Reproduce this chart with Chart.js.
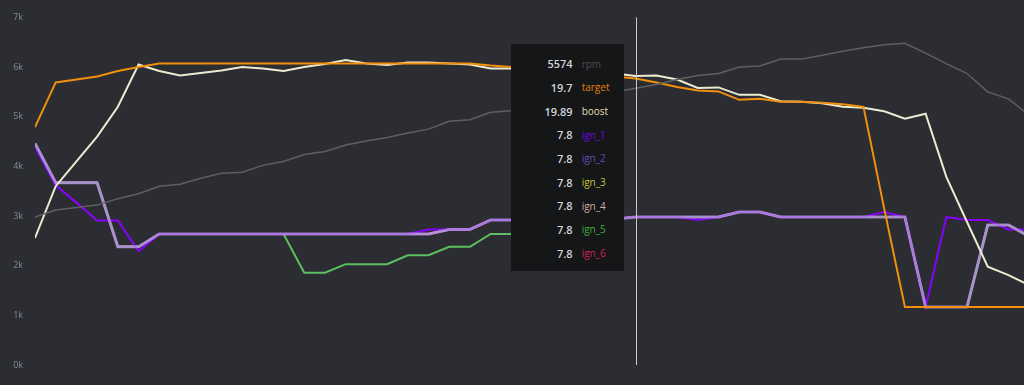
<!DOCTYPE html>
<html>
<head>
<meta charset="utf-8">
<script src="https://cdn.jsdelivr.net/npm/chart.js@4.4.1/dist/chart.umd.min.js"></script>
<style>
  html, body { margin:0; padding:0; background:#2b2d32; overflow:hidden; }
  #wrap { position:relative; width:1024px; height:385px; }
  canvas { display:block; }
  #tip { position:absolute; background:#151617; padding:8px 0 0 0; box-sizing:border-box;
         font-family:"Open Sans", "DejaVu Sans", sans-serif; }
  #tip .row { display:flex; align-items:center; height:23.66px; }
  #tip .val { width:62px; text-align:right; color:#d2d4d8; font-size:11px; font-weight:600; }
  #tip .lab { padding-left:9px; font-size:10px; }
</style>
</head>
<body>
<div id="wrap"><canvas id="c" width="1024" height="385"></canvas><div id="tip"></div></div>
<script>
// ---- data (plotted values, in thousands of the y axis unit) ----
const rpm    = [2.98,3.12,3.17,3.22,3.35,3.45,3.60,3.64,3.76,3.86,3.88,4.02,4.10,4.24,4.30,4.43,4.51,4.58,4.67,4.75,4.91,4.94,5.09,5.12,5.20,5.28,5.36,5.44,5.50,5.574,5.65,5.75,5.83,5.87,6.00,6.02,6.16,6.16,6.24,6.32,6.39,6.45,6.48,6.28,6.07,5.87,5.50,5.36,5.03];
const target = [4.79,5.69,5.75,5.81,5.92,6.00,6.07,6.07,6.07,6.07,6.07,6.07,6.07,6.07,6.07,6.07,6.07,6.07,6.07,6.07,6.07,6.07,6.03,6.00,5.97,5.94,5.90,5.86,5.81,5.77,5.69,5.60,5.53,5.51,5.34,5.36,5.30,5.30,5.28,5.25,5.20,3.15,1.17,1.17,1.17,1.17,1.17,1.17,1.17];
const boost  = [2.56,3.60,4.10,4.60,5.20,6.05,5.92,5.83,5.88,5.93,6.00,5.97,5.92,6.00,6.06,6.14,6.07,6.04,6.09,6.09,6.07,6.05,5.97,5.97,5.97,5.96,5.95,5.92,5.87,5.82,5.83,5.75,5.58,5.59,5.44,5.44,5.31,5.30,5.27,5.20,5.18,5.11,4.96,5.06,3.79,2.88,1.98,1.81,1.61];
const ign1   = [4.39,3.62,3.27,2.91,2.91,2.29,2.64,2.64,2.64,2.64,2.64,2.64,2.64,2.64,2.64,2.64,2.64,2.64,2.64,2.73,2.73,2.73,2.92,2.92,2.92,2.92,2.94,2.94,2.94,2.98,2.98,2.98,2.92,2.98,3.08,3.08,2.98,2.98,2.98,2.98,2.98,3.08,2.98,1.17,2.98,2.92,2.92,2.73,2.73];
const ign2   = [4.46,3.67,3.67,3.67,2.38,2.38,2.64,2.64,2.64,2.64,2.64,2.64,2.64,2.64,2.64,2.64,2.64,2.64,2.64,2.64,2.73,2.73,2.92,2.92,2.92,2.92,2.94,2.94,2.94,2.98,2.98,2.98,2.98,2.98,3.08,3.08,2.98,2.98,2.98,2.98,2.98,2.98,2.98,1.17,1.17,1.17,2.82,2.82,2.59];
const ign3   = ign2.slice();
const ign4   = ign2.slice();
const ign5   = [4.46,3.67,3.67,3.67,2.38,2.38,2.64,2.64,2.64,2.64,2.64,2.64,2.64,1.86,1.86,2.03,2.03,2.03,2.21,2.21,2.38,2.38,2.64,2.64,2.64,2.80,2.94,2.94,2.94,2.98,2.98,2.98,2.98,2.98,3.08,3.08,2.98,2.98,2.98,2.98,2.98,2.98,2.98,1.17,1.17,1.17,2.82,2.82,2.59];
const ign6   = ign2.slice();

const seriesNames  = ['rpm','target','boost','ign_1','ign_2','ign_3','ign_4','ign_5','ign_6'];
const hoverIndex   = 29;
const hoverValues  = ['5574','19.7','19.89','7.8','7.8','7.8','7.8','7.8','7.8'];
const yTicks       = [0,1,2,3,4,5,6,7];

// ---- styles ----
const lineColors = ['#5f6062','#f0900c','#ecebd2','#8a00ff','rgba(178,140,222,0.85)','#c8c838','#d8a8a8','#5cc060','#d02050'];
const labelColors= ['#4c4d50','#e5820f','#e4dcb2','#7300e6','#6a4bb4','#c4c43a','#d6a7a2','#3fae3f','#cf2352'];
const widths     = [1.5,2,2,2,3,2,2,2,2];
const orders     = [1,2,3,5,4,8,7,6,9];
const allData    = [rpm,target,boost,ign1,ign2,ign3,ign4,ign5,ign6];

const datasets = seriesNames.map((n,k)=>({
  label:n,
  data: allData[k].map((v,i)=>({x:i,y:v})),
  borderColor: lineColors[k],
  borderWidth: widths[k],
  pointRadius:0,
  tension:0,
  fill:false,
  order: orders[k]
}));

const crosshair = {
  id:'crosshair',
  afterDatasetsDraw(chart){
    const x = Math.round(chart.scales.x.getPixelForValue(hoverIndex)) + 0.5;
    const ctx = chart.ctx;
    ctx.save();
    ctx.strokeStyle = '#c9cacc';
    ctx.lineWidth = 1;
    ctx.beginPath();
    ctx.moveTo(x, chart.chartArea.top);
    ctx.lineTo(x, chart.chartArea.bottom);
    ctx.stroke();
    ctx.restore();
  }
};

const chart = new Chart(document.getElementById('c'), {
  type:'line',
  data:{ datasets },
  options:{
    responsive:false,
    animation:false,
    layout:{ padding:{ top:17, bottom:20, left:0, right:0 } },
    plugins:{ legend:{display:false}, tooltip:{enabled:false} },
    scales:{
      x:{ type:'linear', min:0, max:47.75, display:false },
      y:{
        min:0, max:7,
        afterFit(s){ s.width = 35; },
        afterBuildTicks(s){ s.ticks = yTicks.map(v=>({value:v})); },
        grid:{ display:false, drawTicks:false },
        border:{ display:false },
        ticks:{ color:'#858b95', padding:12, font:{ family:'"Open Sans", sans-serif', size:9 },
                callback:v=>v+'k' }
      }
    }
  },
  plugins:[crosshair]
});

// ---- tooltip ----
const tip = document.getElementById('tip');
tip.innerHTML = seriesNames.map((n,k)=>
  `<div class="row"><span class="val">${hoverValues[k]}</span><span class="lab" style="color:${labelColors[k]}">${n}</span></div>`
).join('');
const px = chart.scales.x.getPixelForValue(hoverIndex);
tip.style.width = '113px';
tip.style.height = '227px';
tip.style.left = (px - 12 - 113) + 'px';
tip.style.top = '44px';
</script>
</body>
</html>
